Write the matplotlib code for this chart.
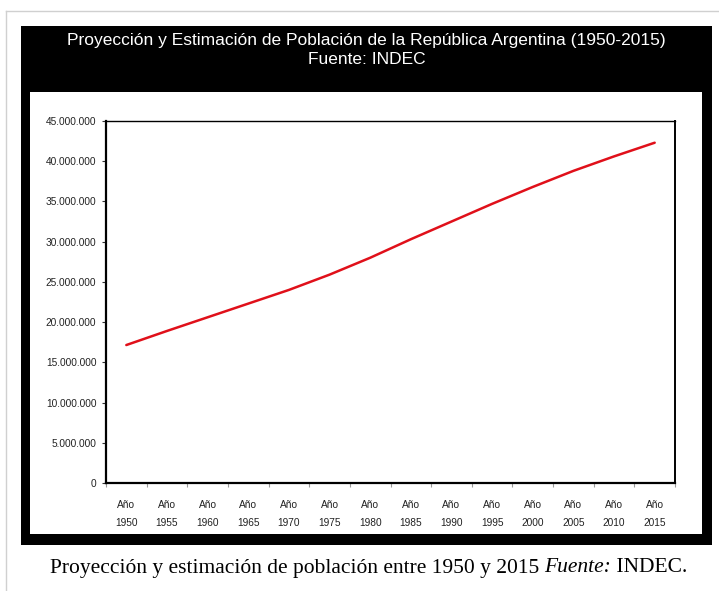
import matplotlib
matplotlib.use("Agg")
import matplotlib.pyplot as plt
from matplotlib.patches import Rectangle
from matplotlib.lines import Line2D
from matplotlib.ticker import FuncFormatter, FixedLocator

# Population of Argentina, estimates and projections (INDEC)
years = [1950, 1955, 1960, 1965, 1970, 1975, 1980, 1985,
         1990, 1995, 2000, 2005, 2010, 2015]
population = [17150000, 18900000, 20600000, 22300000, 24000000, 25900000,
              28000000, 30300000, 32500000, 34700000, 36800000, 38800000,
              40600000, 42300000]
x_labels = [f"Año\n{y}" for y in years]
y_ticks = list(range(0, 45000001, 5000000))

W, H = 719, 591
fig = plt.figure(figsize=(W / 100, H / 100), dpi=100)
fig.patch.set_facecolor("white")


def fx(px):
    return px / W


def fy(py):
    return 1 - py / H


# light page frame (left and top edges)
fig.add_artist(Line2D([fx(6), fx(6)], [0, fy(11)], color="#d0d0d0", lw=1.0))
fig.add_artist(Line2D([fx(6), 1], [fy(11), fy(11)], color="#d0d0d0", lw=1.0))

# black chart frame with title band
fig.add_artist(Rectangle((fx(21), fy(545)), fx(712) - fx(21), fy(26) - fy(545),
                         facecolor="black", edgecolor="none", zorder=0))
fig.add_artist(Rectangle((fx(30), fy(534)), fx(702) - fx(30), fy(92) - fy(534),
                         facecolor="white", edgecolor="none", zorder=0.5))

title_font = dict(family=["Liberation Sans", "DejaVu Sans"], fontsize=12.5, color="white",
                  ha="center", va="center")
fig.text(fx(366.5), fy(41), "Proyección y Estimación de Población de la República Argentina (1950-2015)",
         **title_font)
fig.text(fx(366.5), fy(60), "Fuente: INDEC", **title_font)

# caption below the chart
cap_y = fy(568)
cap_font = dict(family=["Liberation Serif", "DejaVu Serif"], fontsize=15.45, color="black", va="center")
t1 = fig.text(0, cap_y, "Proyección y estimación de población entre 1950 y 2015 ", **cap_font)
t2 = fig.text(0, cap_y, "Fuente:", style="italic", **cap_font)
t3 = fig.text(0, cap_y, " INDEC.", **cap_font)
fig.canvas.draw()
r = fig.canvas.get_renderer()
w1 = t1.get_window_extent(r).width
w2 = t2.get_window_extent(r).width
w3 = t3.get_window_extent(r).width
start = 368.5 - (w1 + w2 + w3) / 2
t1.set_x(fx(start))
t2.set_x(fx(start + w1))
t3.set_x(fx(start + w1 + w2))

# plot area
ax = fig.add_axes([fx(106), fy(483), fx(675) - fx(106), fy(121) - fy(483)])
ax.set_zorder(2)
n = len(years)
xpos = [i + 0.5 for i in range(n)]
ax.plot(xpos, population, color="#e0101a", lw=1.8, solid_capstyle="round")
ax.set_xlim(0, n)
ax.set_ylim(0, 45000000)

ax.yaxis.set_major_locator(FixedLocator(y_ticks))
ax.yaxis.set_major_formatter(FuncFormatter(lambda v, p: f"{int(v):,}".replace(",", ".")))
ax.xaxis.set_major_locator(FixedLocator(list(range(n + 1))))
ax.xaxis.set_major_formatter(FuncFormatter(lambda v, p: ""))
ax.xaxis.set_minor_locator(FixedLocator(xpos))
ax.set_xticklabels(x_labels, minor=True)

fam = ["Liberation Sans", "DejaVu Sans"]
for lab in ax.get_yticklabels():
    lab.set_fontfamily(fam)
    lab.set_fontsize(7.3)
    lab.set_color("#222222")
for lab in ax.get_xticklabels(minor=True):
    lab.set_fontfamily(fam)
    lab.set_fontsize(7.3)
    lab.set_color("#222222")
    lab.set_linespacing(2.0)

ax.tick_params(axis="y", which="major", direction="out", length=3, width=0.8, pad=4, color="#333333")
ax.tick_params(axis="x", which="major", direction="out", length=3, width=0.8, color="#999999")
ax.tick_params(axis="x", which="minor", length=0, pad=12)

ax.spines["left"].set_linewidth(1.6)
ax.spines["bottom"].set_linewidth(1.6)
ax.spines["top"].set_linewidth(1.0)
ax.spines["right"].set_linewidth(1.4)
for s in ax.spines.values():
    s.set_color("black")

fig.savefig("out.png", dpi=100)
